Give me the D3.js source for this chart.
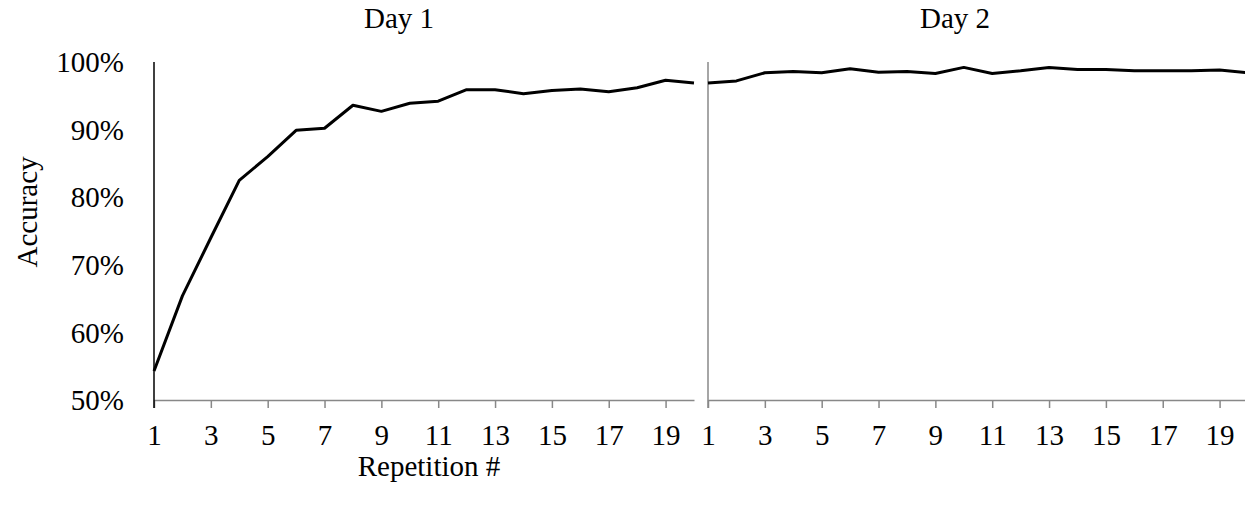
<!DOCTYPE html>
<html>
<head>
<meta charset="utf-8">
<script src="https://cdn.jsdelivr.net/npm/d3@7"></script>
<style>
  body { margin: 0; background: #fff; }
  text { font-family: "Liberation Serif", "Times New Roman", serif; fill: #000; }
</style>
</head>
<body>
<div id="chart"></div>
<script>
// Accuracy (%) per repetition
const reps = d3.range(1, 21);
const day1 = [54.3, 65.4, 74.0, 82.5, 86.0, 89.9, 90.2, 93.6, 92.7, 93.9,
              94.2, 95.9, 95.9, 95.3, 95.8, 96.0, 95.6, 96.2, 97.3, 96.9];
const day2 = [96.9, 97.2, 98.4, 98.6, 98.4, 99.0, 98.5, 98.6, 98.3, 99.2,
              98.3, 98.7, 99.2, 98.9, 98.9, 98.7, 98.7, 98.7, 98.8, 98.4];
const panelTitles = ['Day 1', 'Day 2'];
const yTicks = [50, 60, 70, 80, 90, 100];
const xTicks = [1, 3, 5, 7, 9, 11, 13, 15, 17, 19];

const width = 1245;
const height = 505;
const fontSize = '29px';

const svg = d3.select('#chart')
  .append('svg')
  .attr('width', width)
  .attr('height', height);

const y = d3.scaleLinear().domain([50, 100]).range([400, 62]);

// one x scale per panel, each 1..20
const panels = [
  { data: day1, title: panelTitles[0], x: d3.scaleLinear().domain([1, 20]).range([154, 694]), titleX: 399, axisColor: '#000' },
  { data: day2, title: panelTitles[1], x: d3.scaleLinear().domain([1, 20]).range([708, 1248]), titleX: 955, axisColor: '#888' }
];

panels.forEach(p => {
  const g = svg.append('g');

  // x axis
  const xAxis = d3.axisBottom(p.x)
    .tickValues(xTicks)
    .tickFormat(d3.format('d'))
    .tickSize(8)
    .tickSizeOuter(0)
    .tickPadding(16);
  const gx = g.append('g')
    .attr('transform', `translate(0,${y(50)})`)
    .call(xAxis);
  gx.select('.domain').attr('stroke', '#888').attr('stroke-width', 1.5);
  gx.selectAll('.tick line').attr('stroke', '#888').attr('stroke-width', 1.5);
  gx.selectAll('.tick text').style('font-size', fontSize).attr('fill', '#000');

  // vertical axis line
  g.append('line')
    .attr('x1', p.x(1)).attr('x2', p.x(1))
    .attr('y1', y(100)).attr('y2', y(50) + 8)
    .attr('stroke', p.axisColor)
    .attr('stroke-width', 1.5);

  // data line
  const line = d3.line()
    .x((d, i) => p.x(reps[i]))
    .y(d => y(d));
  g.append('path')
    .datum(p.data)
    .attr('fill', 'none')
    .attr('stroke', '#000')
    .attr('stroke-width', 3)
    .attr('stroke-linejoin', 'round')
    .attr('d', line);

  // panel title
  svg.append('text')
    .attr('x', p.titleX)
    .attr('y', 28)
    .attr('text-anchor', 'middle')
    .style('font-size', fontSize)
    .text(p.title);
});

// y tick labels (left panel only)
svg.append('g')
  .selectAll('text')
  .data(yTicks)
  .enter()
  .append('text')
  .attr('x', 124)
  .attr('y', d => y(d))
  .attr('dy', '0.35em')
  .attr('text-anchor', 'end')
  .style('font-size', fontSize)
  .text(d => d + '%');

// axis titles
svg.append('text')
  .attr('x', 429)
  .attr('y', 476)
  .attr('text-anchor', 'middle')
  .style('font-size', fontSize)
  .text('Repetition #');

svg.append('text')
  .attr('transform', 'translate(37,212) rotate(-90)')
  .attr('text-anchor', 'middle')
  .style('font-size', fontSize)
  .text('Accuracy');
</script>
</body>
</html>
